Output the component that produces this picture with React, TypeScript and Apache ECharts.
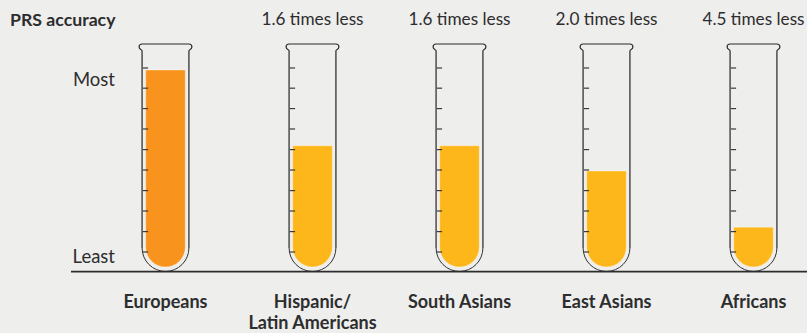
import React, { useEffect, useRef } from "react";
import * as echarts from "echarts";

const groups = ["Europeans", "Hispanic/\nLatin Americans", "South Asians", "East Asians", "Africans"];
const deficits = ["", "1.6 times less", "1.6 times less", "2.0 times less", "4.5 times less"];
// Accuracy relative to Europeans, the inverse of the stated deficit.
const accuracy = [1, 0.625, 0.625, 0.5, 0.222];
const fillColors = ["#f8941d", "#fdb71a", "#fdb71a", "#fdb71a", "#fdb71a"];
const gradations = [0.099, 0.2, 0.302, 0.403, 0.505, 0.606, 0.708, 0.809, 0.91, 1.01];

const INK = "#2d2d2d";
const FONT = "Lato";

function renderTube(_params: any, api: any) {
  const index = api.value(0);
  const level = api.value(1);
  const [cx, base] = api.coord([index, 0]);
  const [, top] = api.coord([index, level]);
  const color = fillColors[index];

  // Liquid: flat top, round bottom, set 5px inside the glass.
  const fillHalf = 19.8;
  const fillBottom = base - 5;
  const fillPath =
    `M${cx - fillHalf} ${top} L${cx + fillHalf} ${top} L${cx + fillHalf} ${fillBottom - fillHalf} ` +
    `A${fillHalf} ${fillHalf} 0 0 1 ${cx - fillHalf} ${fillBottom - fillHalf} Z`;

  // Glass walls and rim.
  const half = 23.4;
  const rimY = base - 228;
  const wallBottom = base - 24;
  const wallPath =
    `M${cx - half} ${rimY + 7} L${cx - half} ${wallBottom} M${cx + half} ${rimY + 7} L${cx + half} ${wallBottom}`;
  const bowlPath = `M${cx - half} ${wallBottom} A${half} ${half} 0 0 0 ${cx + half} ${wallBottom}`;
  const rimPath =
    `M${cx - half} ${rimY + 7} C${cx - half} ${rimY + 5} ${cx - half - 3} ${rimY + 6} ${cx - half - 3} ${rimY + 3} ` +
    `C${cx - half - 3} ${rimY + 1} ${cx - half - 1.5} ${rimY} ${cx - half} ${rimY} L${cx + half} ${rimY} ` +
    `C${cx + half + 1.5} ${rimY} ${cx + half + 3} ${rimY + 1} ${cx + half + 3} ${rimY + 3} ` +
    `C${cx + half + 3} ${rimY + 6} ${cx + half} ${rimY + 5} ${cx + half} ${rimY + 7}`;

  const raw = (d: string, style: any) => ({ type: "path", shape: { pathData: d }, style });

  const ticks = gradations.map((g) => {
    const [, y] = api.coord([index, g]);
    return {
      type: "line",
      shape: { x1: cx - half, y1: y, x2: cx - half + 6, y2: y },
      style: { stroke: "#3a3a3a", lineWidth: 1.2 },
    };
  });

  return {
    type: "group",
    children: [
      raw(fillPath, { fill: color, stroke: "rgba(255,255,255,0.35)", lineWidth: 1 }),
      ...ticks,
      raw(wallPath, { fill: "none", stroke: "#606060", lineWidth: 1.7 }),
      raw(bowlPath, { fill: "none", stroke: "#333333", lineWidth: 1 }),
      raw(rimPath, { fill: "none", stroke: "#2b2b2b", lineWidth: 1.2 }),
    ],
  };
}

export default function App() {
  const ref = useRef<HTMLDivElement>(null);

  useEffect(() => {
    const chart = echarts.init(ref.current!, undefined, { renderer: "svg" });
    chart.setOption({
      animation: false,
      backgroundColor: "#eeeeed",
      grid: { left: 92, top: 70, width: 735, height: 202, containLabel: false, outerBoundsMode: "none" },
      xAxis: [
        {
          type: "category",
          data: groups,
          axisLine: { show: false },
          axisTick: { show: false },
          axisLabel: {
            interval: 0,
            margin: 18,
            color: INK,
            fontFamily: FONT,
            fontWeight: "bold",
            fontSize: 18,
            lineHeight: 21,
          },
        },
        {
          type: "category",
          position: "top",
          data: deficits,
          axisLine: { show: false },
          axisTick: { show: false },
          axisLabel: { interval: 0, margin: 43, color: INK, fontFamily: FONT, fontSize: 17.2 },
        },
      ],
      yAxis: { type: "value", min: 0, max: 1, show: false },
      graphic: [
        {
          type: "line",
          shape: { x1: 71, y1: 271.7, x2: 807, y2: 271.7 },
          style: { stroke: "#2d2d2d", lineWidth: 1.8 },
          z: 5,
        },
        {
          type: "text",
          x: 10,
          y: 19,
          style: { text: "PRS accuracy", fill: INK, font: `bold 17.7px ${FONT}`, textVerticalAlign: "middle" },
        },
        {
          type: "text",
          x: 115,
          y: 79,
          style: { text: "Most", fill: INK, font: `18.5px ${FONT}`, textAlign: "right", textVerticalAlign: "middle" },
        },
        {
          type: "text",
          x: 115,
          y: 256,
          style: { text: "Least", fill: INK, font: `18.5px ${FONT}`, textAlign: "right", textVerticalAlign: "middle" },
        },
      ],
      series: [
        {
          type: "custom",
          coordinateSystem: "cartesian2d",
          clip: false,
          renderItem: renderTube,
          encode: { x: 0, y: 1 },
          data: accuracy.map((v, i) => [i, v]),
        },
      ],
    });
    return () => chart.dispose();
  }, []);

  return <div ref={ref} style={{ position: "fixed", left: 0, top: 0, width: 807, height: 333 }} />;
}
